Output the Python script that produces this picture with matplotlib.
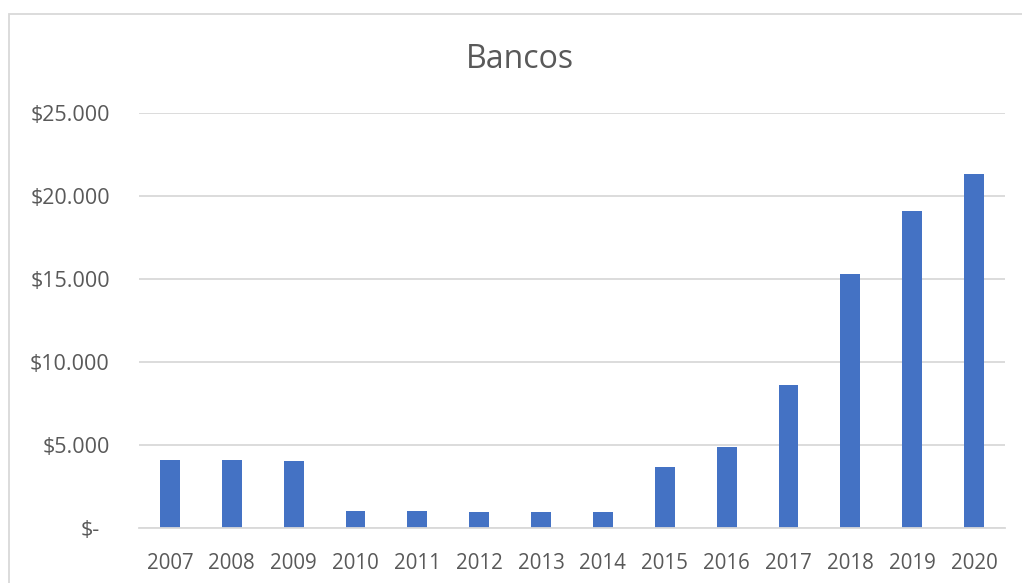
import matplotlib
matplotlib.use("Agg")
import matplotlib.pyplot as plt
from matplotlib.patches import Rectangle
from matplotlib.transforms import ScaledTranslation

years = ["2007", "2008", "2009", "2010", "2011", "2012", "2013", "2014",
         "2015", "2016", "2017", "2018", "2019", "2020"]
values = [4110, 4090, 4050, 1060, 1020, 980, 965, 980,
          3680, 4900, 8650, 15300, 19110, 21330]
y_ticks = [0, 5000, 10000, 15000, 20000, 25000]
y_tick_labels = ["$-", "$5.000", "$10.000", "$15.000", "$20.000", "$25.000"]
title = "Bancos"

W, H, DPI = 1022, 583, 100
fig = plt.figure(figsize=(W / DPI, H / DPI), dpi=DPI)
plt.rcParams['font.family'] = ['Open Sans', 'DejaVu Sans']
text_color = "#595959"
grid_color = "#D9D9D9"

# chart-area border (cropped at right/bottom)
fig.patches.append(Rectangle((9 / W, -0.1), 1.2, 1 - 14.5 / H + 0.1,
                             transform=fig.transFigure, fill=False,
                             edgecolor=grid_color, linewidth=1.3))

left, right = 139 / W, 1005 / W
bottom, top = 1 - 528.3 / H, 1 - 113.3 / H
ax = fig.add_axes([left, bottom, right - left, top - bottom])

x = list(range(len(years)))
ax.bar(x, values, width=0.32, color="#4472C4", zorder=3)
ax.set_xlim(-0.5, len(years) - 0.5)
ax.set_ylim(0, 25000)
ax.set_xticks(x)
ax.set_xticklabels(years)
ax.set_yticks(y_ticks)
ax.set_yticklabels(y_tick_labels)
ax.tick_params(axis="x", length=0, labelsize=14.8, colors=text_color, pad=17.5)
ax.tick_params(axis="y", length=0, labelsize=15.5, colors=text_color, pad=21)
for lab in ax.get_yticklabels():
    if lab.get_text() == "$-":
        lab.set_transform(lab.get_transform() + ScaledTranslation(-10 / DPI, 0, fig.dpi_scale_trans))
ax.grid(axis="y", color=grid_color, linewidth=1.3, zorder=0)
for s in ax.spines.values():
    s.set_visible(False)
ax.spines["bottom"].set_visible(True)
ax.spines["bottom"].set_color(grid_color)
ax.spines["bottom"].set_linewidth(1.3)
ax.spines["bottom"].set_zorder(4)

fig.text(520 / W, 1 - 59 / H, title, ha="center", va="center",
         fontsize=23, color=text_color)

fig.savefig("out.png", dpi=DPI)
